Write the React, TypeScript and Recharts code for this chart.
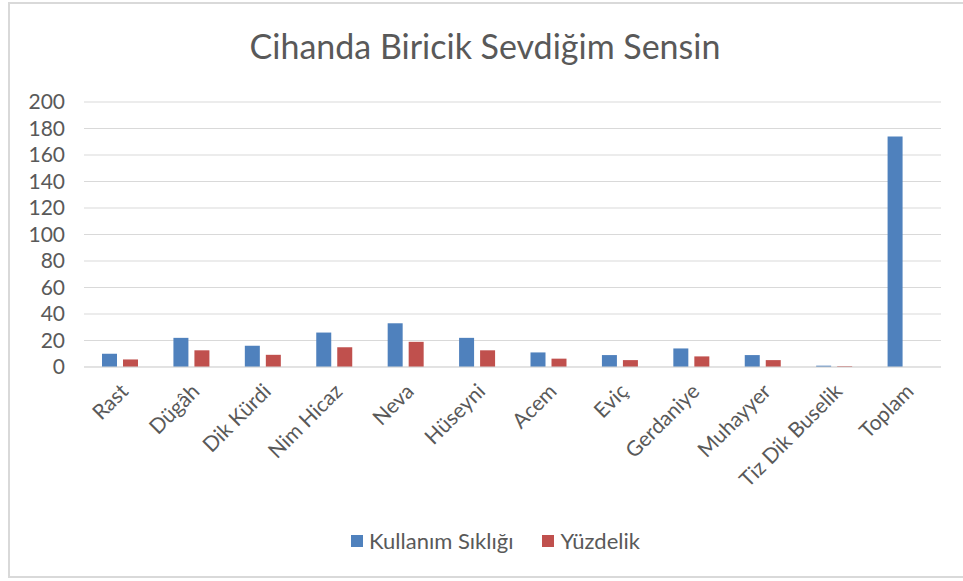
import { BarChart, Bar, XAxis, YAxis, CartesianGrid, Legend } from 'recharts';

const categories = ['Rast', 'Dügâh', 'Dik Kürdi', 'Nim Hicaz', 'Neva', 'Hüseyni', 'Acem', 'Eviç', 'Gerdaniye', 'Muhayyer', 'Tiz Dik Buselik', 'Toplam'];
const kullanim = [10, 22, 16, 26, 33, 22, 11, 9, 14, 9, 1, 174];
const yuzdelik = [5.7, 12.6, 9.2, 14.9, 19.0, 12.6, 6.3, 5.2, 8.0, 5.2, 0.6, null];
const yTicks = [0, 20, 40, 60, 80, 100, 120, 140, 160, 180, 200];

const data = categories.map((name, i) => ({
    name,
    kullanim: kullanim[i],
    yuzdelik: yuzdelik[i],
}));

const FONT = 'Lato, "Open Sans", sans-serif';
const TEXT = '#595959';

const RotatedTick = (props: any) => {
    const { x, y, payload } = props;
    return (
        <g transform={`translate(${x + 6},${y + 14})`}>
            <text
                transform="rotate(-45)"
                textAnchor="end"
                dominantBaseline="middle"
                fill={TEXT}
                fontSize={21}
                fontFamily={FONT}
            >
                {payload.value}
            </text>
        </g>
    );
};

const LegendContent = (props: any) => {
    const { payload } = props;
    return (
        <div style={{ display: 'flex', justifyContent: 'center', gap: 29, fontFamily: FONT, fontSize: 22, color: TEXT, paddingLeft: 28 }}>
            {payload.map((entry: any) => (
                <div key={entry.value} style={{ display: 'flex', alignItems: 'center' }}>
                    <span style={{ display: 'inline-block', width: 12, height: 12, background: entry.color, marginRight: 6 }} />
                    <span>{entry.value}</span>
                </div>
            ))}
        </div>
    );
};

export default function App() {
    return (
        <div style={{ position: 'absolute', left: 0, top: 0, width: 963, height: 581, background: '#fff' }}>
            {/* chart frame */}
            <div
                style={{
                    position: 'absolute',
                    left: 8,
                    top: 2,
                    width: 960,
                    height: 576,
                    border: '2px solid #d9d9d9',
                    boxSizing: 'border-box',
                }}
            />
            <div
                style={{
                    position: 'absolute',
                    left: 10,
                    top: 25,
                    width: 950,
                    textAlign: 'center',
                    fontFamily: FONT,
                    fontSize: 34,
                    color: TEXT,
                }}
            >
                Cihanda Biricik Sevdiğim Sensin
            </div>
            <BarChart
                width={963}
                height={581}
                data={data}
                margin={{ top: 102, right: 22, bottom: 0, left: 0 }}
                barSize={15}
                barGap={6}
                style={{ position: 'absolute', left: 0, top: 0 }}
            >
                <CartesianGrid vertical={false} stroke="#d9d9d9" />
                <XAxis
                    dataKey="name"
                    interval={0}
                    height={184}
                    tickLine={false}
                    axisLine={{ stroke: '#d9d9d9' }}
                    tick={<RotatedTick />}
                />
                <YAxis
                    width={84}
                    domain={[0, 200]}
                    ticks={yTicks}
                    interval={0}
                    axisLine={false}
                    tickLine={false}
                    tickSize={0}
                    tickMargin={19}
                    tick={{ fill: TEXT, fontSize: 21, fontFamily: FONT }}
                />
                <Legend
                    verticalAlign="bottom"
                    height={30}
                    content={<LegendContent />}
                    wrapperStyle={{ top: 527, left: 0, width: 963, height: 30 }}
                />
                <Bar dataKey="kullanim" name="Kullanım Sıklığı" fill="#4f81bd" isAnimationActive={false} />
                <Bar dataKey="yuzdelik" name="Yüzdelik" fill="#c0504d" isAnimationActive={false} />
            </BarChart>
        </div>
    );
}
